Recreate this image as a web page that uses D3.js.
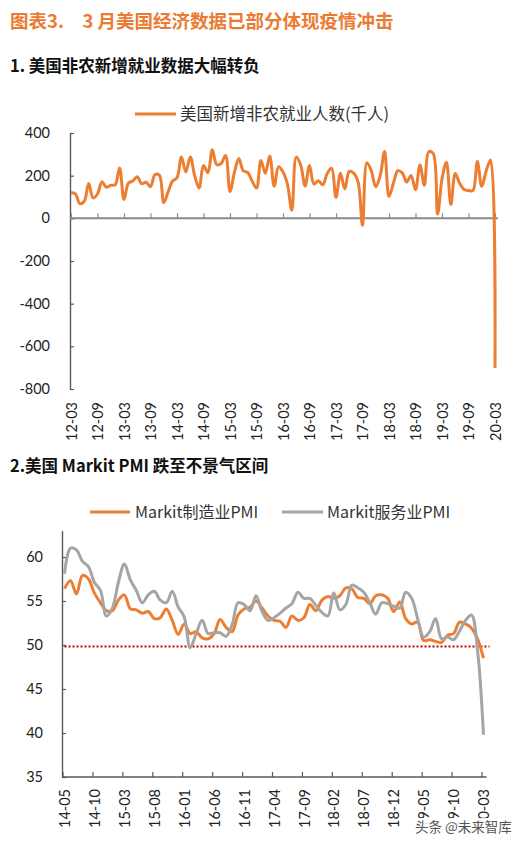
<!DOCTYPE html>
<html><head><meta charset="utf-8">
<script src="https://cdn.jsdelivr.net/npm/d3@7"></script>
<style>body{margin:0;background:#fff;} svg{display:block;} text{white-space:pre;}</style>
</head><body>
<svg id="c" width="529" height="845"></svg>
<script>
// ---------- DATA ----------
// US nonfarm payrolls change (thousand), monthly 2012-03 .. 2020-03
const nfpValues = [120,115,69,80,163,96,114,171,146,155,
  157,236,88,165,175,195,162,169,148,204,203,74,
  125,175,190,288,217,288,200,142,248,214,321,252,
  257,295,126,215,280,223,215,175,142,271,211,292,
  151,242,217,160,38,287,250,151,248,161,176,157,210,235,
  98,211,138,220,212,170,-33,261,222,148,
  200,313,103,164,223,213,170,201,134,250,155,312,
  304,20,185,263,65,210,164,135,130,130,266,150,
  222,273,-701];
const nfpTickLabels = ["12-03","12-09","13-03","13-09","14-03","14-09","15-03","15-09",
  "16-03","16-09","17-03","17-09","18-03","18-09","19-03","19-09","20-03"];
const nfpYTicks = [400,200,0,-200,-400,-600,-800];
const nfpLegend = "美国新增非农就业人数(千人)";

// Markit PMI, monthly 2014-05 .. 2020-03
const pmiMfg = [56.4,57.3,55.8,57.9,57.5,55.9,54.8,53.9,
  53.9,55.1,55.7,54.1,54.0,53.6,53.8,53.0,53.1,54.1,52.8,51.2,
  52.4,51.3,51.5,50.8,50.7,51.3,52.9,52.0,51.5,53.4,54.1,54.3,
  55.0,54.2,53.3,52.8,52.7,52.0,53.3,52.8,53.1,54.6,53.9,55.1,
  55.5,55.3,55.6,56.5,56.4,55.4,55.3,54.7,55.6,55.7,55.3,53.8,
  54.9,53.0,52.4,52.6,50.5,50.6,50.4,50.3,51.1,51.3,52.6,52.4,
  51.9,50.7,48.5];
const pmiSvc = [58.1,61.0,60.8,59.5,58.9,57.1,56.2,53.3,
  54.2,57.1,59.2,57.4,56.2,54.8,55.7,56.1,55.1,54.8,56.1,54.3,
  53.2,49.7,51.3,52.8,51.3,51.4,51.4,51.0,52.3,54.8,54.6,53.9,
  55.6,53.8,52.8,53.1,53.6,54.2,54.7,56.0,55.3,55.3,54.5,53.7,
  53.3,55.9,54.0,54.6,56.8,56.5,56.0,54.8,53.5,54.8,54.7,54.4,
  54.2,56.0,55.3,53.0,50.9,51.5,53.0,50.7,50.9,50.6,51.6,52.8,
  53.4,49.4,39.8];
const pmiTickLabels = ["14-05","14-10","15-03","15-08","16-01","16-06","16-11","17-04",
  "17-09","18-02","18-07","18-12","19-05","19-10","20-03"];
const pmiYTicks = [35,40,45,50,55,60];
const pmiThreshold = 50;
const pmiSeriesNames = ["Markit制造业PMI","Markit服务业PMI"];

// ---------- STYLE ----------
const orange = "#ED7D31", grey = "#A5A5A5", axisCol = "#595959";
const cjk = "'Noto Sans CJK SC','Noto Sans',sans-serif";
const num = "Lato,'Noto Sans',sans-serif";
const svg = d3.select("#c");

svg.append("text").attr("x",10).attr("y",28).attr("fill","#EB7B33")
  .style("font",`700 18.5px ${cjk}`).text("图表3.\u30003 月美国经济数据已部分体现疫情冲击");
svg.append("text").attr("x",10).attr("y",72).attr("fill","#111")
  .style("font",`700 16.5px ${cjk}`).text("1. 美国非农新增就业数据大幅转负");
svg.append("text").attr("x",10).attr("y",472).attr("fill","#111")
  .style("font",`700 16.5px ${cjk}`).text("2.美国 Markit PMI 跌至不景气区间");

function styleAxis(g){
  g.selectAll("path.domain").attr("stroke",axisCol).attr("stroke-width",1.4);
  g.selectAll(".tick line").attr("stroke",axisCol).attr("stroke-width",1.2);
  g.selectAll("text").attr("fill","#222").style("font",`14.5px ${num}`);
}

// ---------- CHART 1 ----------
const x1 = d3.scaleLinear().domain([0,nfpValues.length-1]).range([71,495]);
const y1 = d3.scaleLinear().domain([-800,400]).range([389,133]);
const idx1 = nfpTickLabels.map((d,k)=>k*6);

// legend
svg.append("line").attr("x1",135).attr("x2",176).attr("y1",114).attr("y2",114)
  .attr("stroke",orange).attr("stroke-width",3);
svg.append("text").attr("x",180).attr("y",120).attr("fill","#333")
  .style("font",`16.5px ${cjk}`).text(nfpLegend);

const gy1 = svg.append("g").attr("transform","translate(70,0)")
  .call(d3.axisLeft(y1).tickValues(nfpYTicks).tickSizeInner(-4).tickSizeOuter(0)
    .tickPadding(20).tickFormat(d=>String(d)));
styleAxis(gy1);

const gx1 = svg.append("g").attr("transform",`translate(0,${y1(0)})`)
  .call(d3.axisBottom(x1).tickValues(idx1).tickSizeInner(-5).tickSizeOuter(0).tickFormat(""));
gx1.select("path.domain").remove();
gx1.append("line").attr("x1",x1(0)-1).attr("x2",x1(96)+3).attr("y1",0).attr("y2",0)
  .attr("stroke","#8a8a8a").attr("stroke-width",2);
styleAxis(gx1);
gx1.selectAll(".tick line").attr("stroke","#8a8a8a");

const gl1 = svg.append("g").attr("transform","translate(0,402)")
  .call(d3.axisBottom(x1).tickValues(idx1).tickSize(0).tickFormat(i=>nfpTickLabels[i/6]));
gl1.select("path.domain").remove();
styleAxis(gl1);
gl1.selectAll("text").attr("x",0).attr("y",0).attr("dy","0.35em")
  .attr("text-anchor","end").attr("transform","rotate(-90)");

svg.append("path").datum(nfpValues)
  .attr("d", d3.line().x((d,i)=>x1(i)).y(d=>y1(d)).curve(d3.curveCatmullRom.alpha(0.5)))
  .attr("fill","none").attr("stroke",orange).attr("stroke-width",3).attr("stroke-linejoin","round");

// ---------- CHART 2 ----------
const x2 = d3.scaleLinear().domain([0,pmiMfg.length-1]).range([64.5,483.5]);
const y2 = d3.scaleLinear().domain([35,63]).range([777,530.6]);
const idx2 = pmiTickLabels.map((d,k)=>k*5);

// legend
svg.append("line").attr("x1",90).attr("x2",130).attr("y1",512).attr("y2",512)
  .attr("stroke",orange).attr("stroke-width",3);
svg.append("text").attr("x",135).attr("y",518).attr("fill","#333")
  .style("font",`16px ${cjk}`).text(pmiSeriesNames[0]);
svg.append("line").attr("x1",282).attr("x2",323).attr("y1",512).attr("y2",512)
  .attr("stroke",grey).attr("stroke-width",3);
svg.append("text").attr("x",327).attr("y",518).attr("fill","#333")
  .style("font",`16px ${cjk}`).text(pmiSeriesNames[1]);

const gy2 = svg.append("g").attr("transform","translate(62,0)")
  .call(d3.axisLeft(y2).tickValues(pmiYTicks).tickSizeInner(-4).tickSizeOuter(0)
    .tickPadding(19).tickFormat(d=>String(d)));
styleAxis(gy2);

const gx2 = svg.append("g").attr("transform",`translate(-2,${y2(35)})`)
  .call(d3.axisBottom(x2).tickValues(idx2).tickSizeInner(-5).tickSizeOuter(0).tickFormat(""));
gx2.select("path.domain").remove();
gx2.append("line").attr("x1",x2(0)-0.5).attr("x2",x2(70)+5).attr("y1",0).attr("y2",0)
  .attr("stroke",axisCol).attr("stroke-width",1.6);
styleAxis(gx2);

const gl2 = svg.append("g").attr("transform","translate(0,789)")
  .call(d3.axisBottom(x2).tickValues(idx2).tickSize(0).tickFormat(i=>pmiTickLabels[i/5]));
gl2.select("path.domain").remove();
styleAxis(gl2);
gl2.selectAll("text").attr("x",0).attr("y",0).attr("dy","0.35em")
  .attr("text-anchor","end").attr("transform","rotate(-90)");

// threshold dotted line
svg.append("line").attr("x1",x2(0)).attr("x2",x2(70)+6)
  .attr("y1",y2(pmiThreshold)+1.5).attr("y2",y2(pmiThreshold)+1.5)
  .attr("stroke","#C00000").attr("stroke-width",2).attr("stroke-dasharray","2,2");

const line2 = d3.line().x((d,i)=>x2(i)).y(d=>y2(d)).curve(d3.curveCatmullRom.alpha(0.5));
svg.append("path").datum(pmiMfg).attr("d",line2).attr("fill","none")
  .attr("stroke",orange).attr("stroke-width",3).attr("stroke-linejoin","round");
svg.append("path").datum(pmiSvc).attr("d",line2).attr("fill","none")
  .attr("stroke",grey).attr("stroke-width",3).attr("stroke-linejoin","round");

// watermark
svg.append("rect").attr("x",411).attr("y",818).attr("width",104).attr("height",22)
  .attr("fill","#fff").attr("opacity",0.92);
svg.append("text").attr("x",415).attr("y",832).attr("fill","#555")
  .style("font",`13.5px ${cjk}`).text("头条 @未来智库");
</script>
</body></html>
